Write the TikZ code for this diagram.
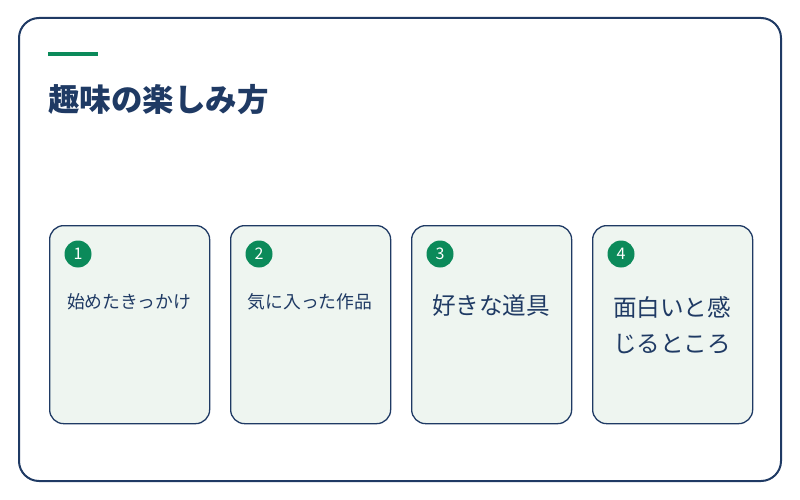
\documentclass[tikz,border=0pt]{standalone}
\usepackage{fontspec}
\setmainfont{Noto Sans CJK JP}
\usetikzlibrary{positioning}
\definecolor{navy}{HTML}{1F3A64}
\definecolor{accent}{HTML}{0B8A5A}
\definecolor{cardbg}{HTML}{EEF5F0}
\tikzset{
  card/.style={draw=navy, line width=1.3pt, fill=cardbg, rounded corners=14pt, minimum width=160pt, minimum height=198pt, anchor=north west},
  num/.style={circle, fill=accent, text=white, minimum size=27pt, inner sep=0pt, font=\fontsize{16}{16}\selectfont},
  small/.style={text=navy, font=\fontsize{17.8}{20}\selectfont},
  big/.style={text=navy, font=\fontsize{23.6}{36}\selectfont, align=center}
}
\begin{document}
\begin{tikzpicture}[x=1pt,y=-1pt]
    \useasboundingbox (0,0) rectangle (800,500);
    \draw [navy, line width=2pt, rounded corners=20pt] (19,18) rectangle (781,481);
    \draw [accent, line width=4pt] (48,54) -- (98,54);
    \node [anchor=west, text=navy, font=\fontsize{31.5}{32}\selectfont\bfseries, inner sep=0pt] (title) at (48,100) {趣味の楽しみ方};

    \node [card] (c1) at (49,225) {};
    \node [card] (c2) at (230,225) {};
    \node [card] (c3) at (411,225) {};
    \node [card] (c4) at (592,225) {};

    \node [num] (n1) at (78,254) {1};
    \node [num] (n2) at (259,254) {2};
    \node [num] (n3) at (440,254) {3};
    \node [num] (n4) at (621,254) {4};

    \node [small] (t1) at (129,302) {始めたきっかけ};
    \node [small] (t2) at (310,302) {気に入った作品};
    \node [big] (t3) at (491,306) {好きな道具};
    \node [big] (t4) at (672,325) {面白いと感\\じるところ};
\end{tikzpicture}
\end{document}
